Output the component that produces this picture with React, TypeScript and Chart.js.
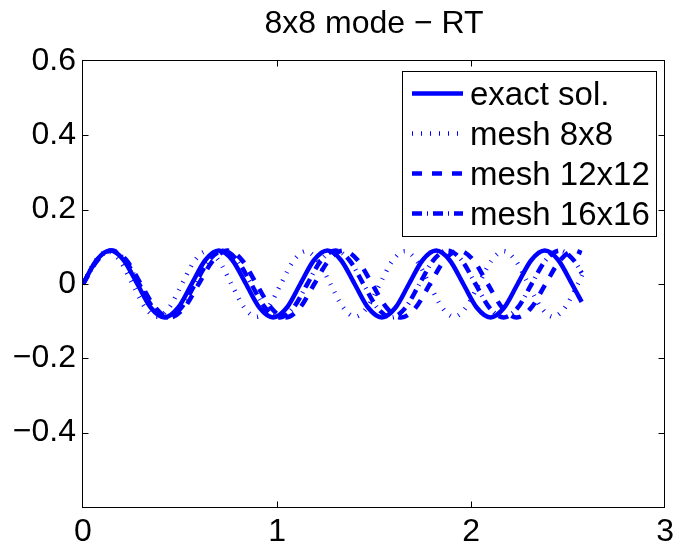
import React, { useEffect, useRef } from 'react';
import { Chart, registerables } from 'chart.js';

Chart.register(...registerables);

const titleText = '8x8 mode − RT';
const seriesLabels = ['exact sol.', 'mesh 8x8', 'mesh 12x12', 'mesh 16x16'];

const xTicks = [0, 1, 2, 3];
const xTickLabels = ['0', '1', '2', '3'];
const yTicks = [-0.6, -0.4, -0.2, 0, 0.2, 0.4, 0.6];
const yTickLabels = ['', '−0.4', '−0.2', '0', '0.2', '0.4', '0.6'];

const exactX = [0, 0.07, 0.14, 0.21, 0.28, 0.35, 0.42, 0.49, 0.56, 0.63, 0.7, 0.77, 0.84, 0.91, 0.98, 1.05, 1.12, 1.19, 1.26, 1.33, 1.4, 1.47, 1.54, 1.61, 1.68, 1.75, 1.82, 1.89, 1.96, 2.03, 2.1, 2.17, 2.24, 2.31, 2.38, 2.45, 2.52, 2.57];
const exactY = [0, 0.064, 0.09, 0.064, 0, -0.064, -0.09, -0.064, 0, 0.064, 0.09, 0.064, 0, -0.064, -0.09, -0.064, 0, 0.064, 0.09, 0.064, 0, -0.064, -0.09, -0.064, 0, 0.064, 0.09, 0.064, 0, -0.064, -0.09, -0.064, 0, 0.064, 0.09, 0.064, 0, -0.048];

const mesh8X = [0, 0.064, 0.128, 0.191, 0.255, 0.319, 0.383, 0.446, 0.51, 0.574, 0.638, 0.701, 0.765, 0.829, 0.893, 0.956, 1.02, 1.084, 1.148, 1.211, 1.275, 1.339, 1.403, 1.466, 1.53, 1.594, 1.658, 1.721, 1.785, 1.849, 1.913, 1.976, 2.04, 2.104, 2.168, 2.231, 2.295, 2.359, 2.423, 2.486, 2.55, 2.575];
const mesh8Y = [0, 0.062, 0.088, 0.062, 0, -0.062, -0.088, -0.062, 0, 0.062, 0.088, 0.062, 0, -0.062, -0.088, -0.062, 0, 0.062, 0.088, 0.062, 0, -0.062, -0.088, -0.062, 0, 0.062, 0.088, 0.062, 0, -0.062, -0.088, -0.062, 0, 0.062, 0.088, 0.062, 0, -0.062, -0.088, -0.062, 0, 0.027];

const mesh12X = [0, 0.075, 0.149, 0.224, 0.298, 0.373, 0.447, 0.522, 0.596, 0.671, 0.745, 0.82, 0.894, 0.969, 1.043, 1.118, 1.192, 1.267, 1.341, 1.416, 1.49, 1.565, 1.639, 1.714, 1.788, 1.863, 1.937, 2.012, 2.086, 2.161, 2.235, 2.31, 2.384, 2.459, 2.533, 2.57];
const mesh12Y = [0, 0.064, 0.09, 0.064, 0, -0.064, -0.09, -0.064, 0, 0.064, 0.09, 0.064, 0, -0.064, -0.09, -0.064, 0, 0.064, 0.09, 0.064, 0, -0.064, -0.09, -0.064, 0, 0.064, 0.09, 0.064, 0, -0.064, -0.09, -0.064, 0, 0.064, 0.09, 0.083];

const mesh16X = [0, 0.072, 0.145, 0.217, 0.289, 0.361, 0.434, 0.506, 0.578, 0.65, 0.723, 0.795, 0.867, 0.939, 1.012, 1.084, 1.156, 1.228, 1.301, 1.373, 1.445, 1.517, 1.59, 1.662, 1.734, 1.806, 1.879, 1.951, 2.023, 2.095, 2.168, 2.24, 2.312, 2.384, 2.457, 2.529, 2.57];
const mesh16Y = [0, 0.064, 0.09, 0.064, 0, -0.064, -0.09, -0.064, 0, 0.064, 0.09, 0.064, 0, -0.064, -0.09, -0.064, 0, 0.064, 0.09, 0.064, 0, -0.064, -0.09, -0.064, 0, 0.064, 0.09, 0.064, 0, -0.064, -0.09, -0.064, 0, 0.064, 0.09, 0.064, 0.03];

const FONT = "'Liberation Sans', Arial, Helvetica, sans-serif";
const BLUE = '#0000ff';

const zip = (xs: number[], ys: number[]) => xs.map((x, i) => ({ x, y: ys[i] }));

const lineStyles = [
  { width: 4.5, dash: [] as number[] },
  { width: 4.5, dash: [1, 8] },
  { width: 4.5, dash: [10, 10] },
  { width: 4.5, dash: [10, 5, 1, 5] },
];

const decorPlugin = {
  id: 'decor',
  afterDraw(chart: any) {
    const { ctx, chartArea: a, scales } = chart;
    const xs = scales.x;
    const ys = scales.y;
    ctx.save();
    ctx.setLineDash([]);
    ctx.strokeStyle = '#000';
    ctx.lineWidth = 1;
    const L = Math.round(a.left) - 0.5;
    const R = Math.round(a.right) - 0.5;
    const T = Math.round(a.top) - 0.5;
    const B = Math.round(a.bottom) + 0.5;
    ctx.strokeRect(L, T, R - L, B - T);
    const tl = 6;
    ctx.beginPath();
    yTicks.forEach((v) => {
      const y = Math.round(ys.getPixelForValue(v)) + 0.5;
      if (y <= T + 1 || y >= B - 1) return;
      ctx.moveTo(L, y);
      ctx.lineTo(L + tl, y);
      ctx.moveTo(R, y);
      ctx.lineTo(R - tl, y);
    });
    xTicks.forEach((v) => {
      const x = Math.round(xs.getPixelForValue(v)) + 0.5;
      if (x <= L + 1 || x >= R - 1) return;
      ctx.moveTo(x, B);
      ctx.lineTo(x, B - tl);
      ctx.moveTo(x, T);
      ctx.lineTo(x, T + tl);
    });
    ctx.stroke();

    // title
    ctx.fillStyle = '#000';
    ctx.font = `32px ${FONT}`;
    ctx.textAlign = 'center';
    ctx.textBaseline = 'alphabetic';
    ctx.fillText(titleText, (a.left + a.right) / 2, 33);

    // legend
    const bx0 = 402, by0 = 71, bx1 = 656, by1 = 236;
    ctx.fillStyle = '#fff';
    ctx.fillRect(bx0, by0, bx1 - bx0, by1 - by0);
    ctx.strokeStyle = '#000';
    ctx.lineWidth = 1;
    ctx.strokeRect(bx0 + 0.5, by0 + 0.5, bx1 - bx0, by1 - by0);
    const rowY = [93.5, 133.5, 173.5, 213.5];
    ctx.font = `33px ${FONT}`;
    ctx.textAlign = 'left';
    seriesLabels.forEach((lab, i) => {
      const st = lineStyles[i];
      ctx.strokeStyle = BLUE;
      ctx.lineWidth = st.width;
      ctx.lineCap = 'butt';
      ctx.setLineDash(st.dash);
      ctx.beginPath();
      ctx.moveTo(412, rowY[i]);
      ctx.lineTo(463, rowY[i]);
      ctx.stroke();
      ctx.setLineDash([]);
      ctx.fillStyle = '#000';
      ctx.fillText(lab, 470, rowY[i] + 11.5);
    });
    ctx.restore();
  },
};

export default function App() {
  const ref = useRef<HTMLCanvasElement | null>(null);

  useEffect(() => {
    if (!ref.current) return;
    const seriesData = [
      zip(exactX, exactY),
      zip(mesh8X, mesh8Y),
      zip(mesh12X, mesh12Y),
      zip(mesh16X, mesh16Y),
    ];
    const chart = new Chart(ref.current, {
      type: 'line',
      data: {
        datasets: seriesData.map((d, i) => ({
          label: seriesLabels[i],
          data: d,
          borderColor: BLUE,
          backgroundColor: BLUE,
          borderWidth: lineStyles[i].width,
          borderDash: lineStyles[i].dash,
          borderCapStyle: 'butt',
          borderJoinStyle: 'round',
          pointRadius: 0,
          pointHoverRadius: 0,
          fill: false,
          cubicInterpolationMode: 'monotone',
          order: 4 - i,
        })),
      },
      options: {
        responsive: false,
        animation: false,
        devicePixelRatio: 1,
        events: [],
        layout: { padding: { top: 61, right: 13.5, bottom: 0, left: 0 } },
        plugins: {
          legend: { display: false },
          title: { display: false },
          tooltip: { enabled: false },
        },
        scales: {
          x: {
            type: 'linear',
            min: 0,
            max: 3,
            grid: { display: false, drawTicks: false },
            border: { display: false },
            afterBuildTicks: (s: any) => {
              s.ticks = xTicks.map((v) => ({ value: v }));
            },
            afterFit: (s: any) => {
              s.height = 43;
            },
            ticks: {
              autoSkip: false,
              maxRotation: 0,
              padding: 6,
              color: '#000',
              font: { family: FONT, size: 32 },
              callback: (v: any) => xTickLabels[xTicks.indexOf(Number(v))] ?? '',
            },
          },
          y: {
            type: 'linear',
            min: -0.6,
            max: 0.6,
            grid: { display: false, drawTicks: false },
            border: { display: false },
            afterBuildTicks: (s: any) => {
              s.ticks = yTicks.map((v) => ({ value: v }));
            },
            afterFit: (s: any) => {
              s.width = 83;
            },
            ticks: {
              autoSkip: false,
              padding: 7,
              color: '#000',
              font: { family: FONT, size: 32 },
              callback: (v: any) => {
                const idx = yTicks.findIndex((t) => Math.abs(t - Number(v)) < 1e-9);
                return idx >= 0 ? yTickLabels[idx] : '';
              },
            },
          },
        },
      },
      plugins: [decorPlugin],
    } as any);
    return () => chart.destroy();
  }, []);

  return (
    <canvas
      ref={ref}
      width={680}
      height={550}
      style={{ position: 'absolute', left: 0, top: 0, width: 680, height: 550, display: 'block', background: '#fff' }}
    />
  );
}
